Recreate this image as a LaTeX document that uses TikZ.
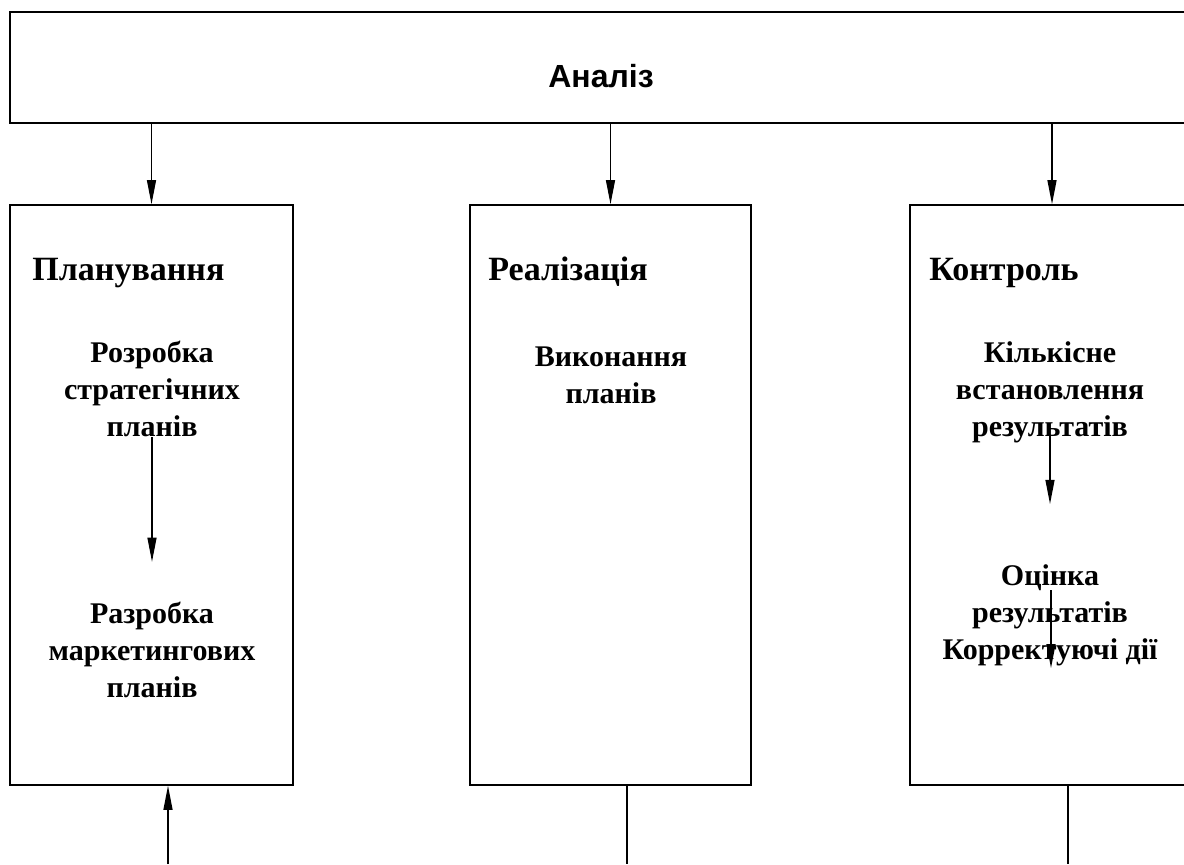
\documentclass[tikz,border=0pt]{standalone}
\usepackage{fontspec}
\setmainfont{Liberation Serif}
\newfontfamily\analizfont{Liberation Sans}
\usetikzlibrary{arrows.meta}

\begin{document}
\begin{tikzpicture}[
    x=0.5pt, y=-0.5pt,
    stagebox/.style={draw, line width=0.8pt, inner sep=0pt},
    title/.style={font=\fontsize{17}{20}\selectfont\bfseries, anchor=base west, inner sep=0pt},
    task/.style={font=\fontsize{15}{18.5}\selectfont\bfseries, align=center, inner sep=0pt},
    arr/.style={line width=0.6pt, -{Triangle[length=12pt, width=4.5pt]}}
]
    \useasboundingbox (0,0) rectangle (1184,864);
    \clip (0,0) rectangle (1184,864);

    % Top box
    \node[stagebox, minimum width=592pt, minimum height=55.5pt] (analizbox) at (602,67.5) {};
    \node[font=\analizfont\fontsize{16}{19}\selectfont\bfseries, inner sep=0pt] (analiz) at (601,76) {Аналіз};

    % Stage boxes
    \node[stagebox, minimum width=141.5pt, minimum height=290pt] (planbox) at (151.5,495) {};
    \node[stagebox, minimum width=140.5pt, minimum height=290pt] (realbox) at (610.5,495) {};
    \node[stagebox, minimum width=142pt, minimum height=290pt] (kontrbox) at (1052,495) {};

    % Stage titles
    \node[title] (plan) at (32,280) {Планування};
    \node[title] (real) at (488,280) {Реалізація};
    \node[title] (kontr) at (929,280) {Контроль};

    % Tasks
    \node[task] (strat) at (152,389) {Розробка\\стратегічних\\планів};
    \node[task] (market) at (152,650) {Разробка\\маркетингових\\планів};
    \node[task] (vykon) at (611,375) {Виконання\\планів};
    \node[task] (kilk) at (1050,392) {Кількісне\\встановлення\\результатів};
    \node[task] (otsin) at (1050,615) {Оцінка\\результатів\\Корректуючі дії};

    % Connectors
    \foreach \b in {planbox, realbox, kontrbox}
        \draw[arr] (analizbox.south -| \b.north) -- (\b.north);
    \draw[arr, shorten >=20pt] (strat.south) -- (market.north);
    \draw[arr, shorten >=30pt] ([yshift=4pt]kilk.south) -- (otsin.north);
    \coordinate (otsA) at (1051,590);
    \coordinate (otsB) at (1051,668);
    \draw[arr] (otsA) -- (otsB);

    % Bottom lines
    \coordinate (planin) at (168,864);
    \coordinate (realout) at (627,864);
    \coordinate (kontrout) at (1068,864);
    \draw[arr] (planin) -- (planin |- planbox.south);
    \draw[line width=0.6pt] (realbox.south -| realout) -- (realout);
    \draw[line width=0.6pt] (kontrbox.south -| kontrout) -- (kontrout);
\end{tikzpicture}
\end{document}
